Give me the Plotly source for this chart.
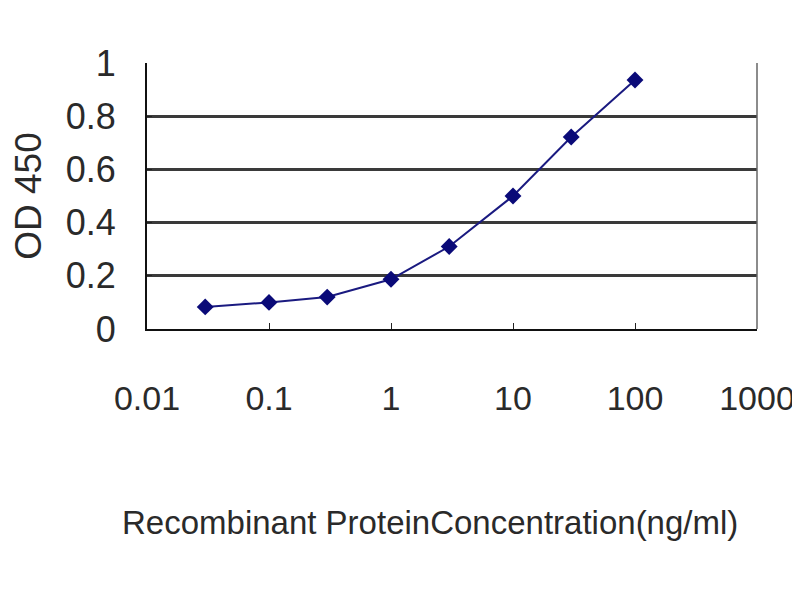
import plotly.graph_objects as go

concentration = [0.03, 0.1, 0.3, 1, 3, 10, 30, 100]
od450 = [0.083, 0.10, 0.12, 0.187, 0.31, 0.50, 0.722, 0.936]
x_tick_vals = [0.01, 0.1, 1, 10, 100, 1000]
x_tick_text = ["0.01", "0.1", "1", "10", "100", "1000"]
y_tick_vals = [0, 0.2, 0.4, 0.6, 0.8, 1]
y_tick_text = ["0", "0.2", "0.4", "0.6", "0.8", "1"]
x_title = "Recombinant ProteinConcentration(ng/ml)"
y_title = "OD 450"

FONT = "Liberation Sans, Arial, sans-serif"
TXT = "#2a2a2a"

fig = go.Figure()
fig.add_trace(go.Scatter(
    x=concentration, y=od450, mode="lines+markers",
    line=dict(color="#1a1a80", width=2),
    marker=dict(symbol="diamond", size=13, color="#0a0a78"),
    showlegend=False, cliponaxis=False,
))

fig.update_layout(
    width=800, height=600,
    margin=dict(l=139, r=51, t=55, b=279),
    paper_bgcolor="white", plot_bgcolor="white",
    font=dict(family=FONT, color=TXT),
    xaxis=dict(
        type="log", range=[-2, 3], automargin=False,
        tickvals=x_tick_vals, ticktext=x_tick_text,
        tickfont=dict(size=34, color=TXT),
        ticks="inside", ticklen=6, tickcolor="#222", tickwidth=1,
        ticklabelstandoff=38,
        showgrid=False, zeroline=False,
        showline=True, linecolor="#111", linewidth=2,
    ),
    yaxis=dict(
        range=[0, 1], automargin=False,
        tickvals=y_tick_vals, ticktext=y_tick_text,
        tickfont=dict(size=36, color=TXT),
        ticks="inside", ticklen=5, tickcolor="#222", tickwidth=1,
        ticklabelstandoff=22,
        showgrid=True, gridcolor="#3a3a3a", gridwidth=2.5,
        zeroline=False,
        showline=True, linecolor="#111", linewidth=2,
        title=dict(text=y_title, font=dict(size=37, color=TXT), standoff=14),
    ),
    annotations=[dict(text=x_title, xref="paper", yref="paper",
                      x=0.464, y=0, xanchor="center", yanchor="middle",
                      yshift=-193, showarrow=False,
                      font=dict(size=33, color=TXT))],
    shapes=[dict(type="line", xref="paper", yref="paper", x0=1, x1=1, y0=0, y1=1,
                 line=dict(color="#666", width=1.5))],
)

fig.write_html("out.html")
